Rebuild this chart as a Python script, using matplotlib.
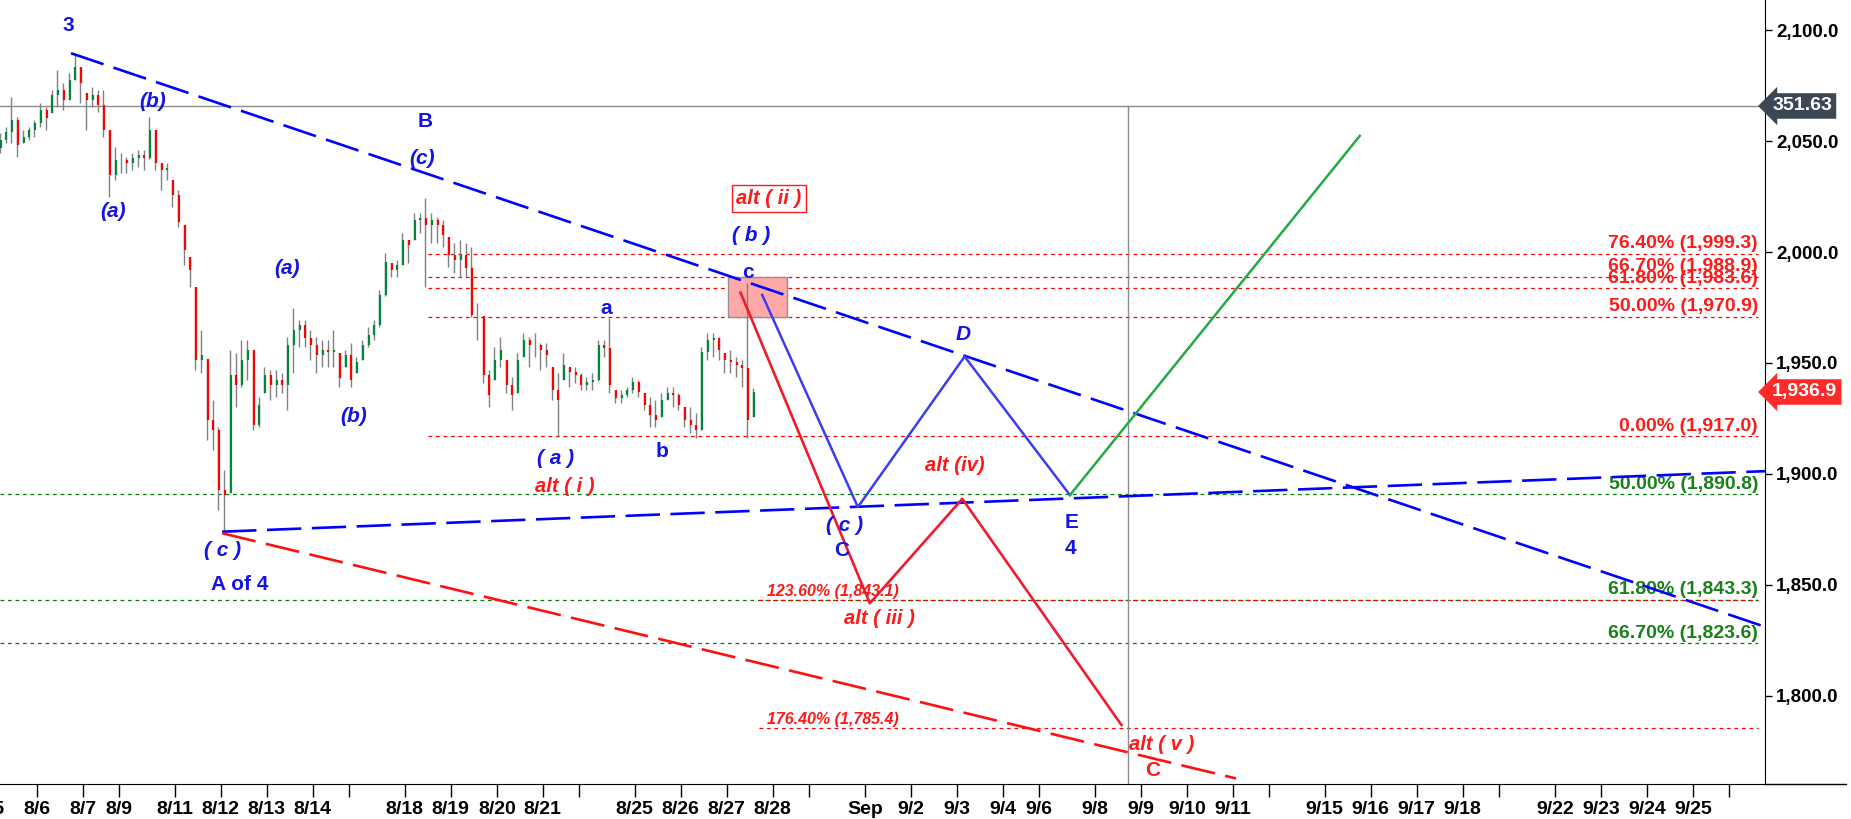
import numpy as np
import matplotlib.pyplot as plt
from matplotlib.patches import Rectangle
from matplotlib.lines import Line2D

plt.rcParams['font.family'] = ['Liberation Sans', 'DejaVu Sans']

# x axis is measured in sessions (8/6 = 0); bars every 1/8 session
bar_start = -0.8
bar_step = 0.125

bar_high = [2053.7, 2056.4, 2070.0, 2060.9, 2055.1, 2056.4, 2059.6, 2067.3, 2065.4, 2073.1,
            2082.1, 2076.3, 2080.8, 2088.9, 2083.5, 2071.8, 2074.5, 2073.1, 2073.1, 2055.0,
            2047.4, 2044.7, 2042.9, 2044.7, 2046.1, 2046.1, 2060.9, 2055.0, 2040.2, 2040.2,
            2032.5, 2028.0, 2012.2, 1997.8, 1984.3, 1964.9, 1952.0, 1933.3, 1921.0, 1901.8,
            1955.8, 1954.5, 1960.4, 1960.4, 1956.0, 1934.7, 1948.2, 1946.8, 1946.8, 1945.5,
            1961.7, 1974.8, 1969.4, 1969.4, 1964.9, 1961.7, 1960.4, 1960.4, 1964.9, 1954.5,
            1955.8, 1959.0, 1952.7, 1960.4, 1966.2, 1969.4, 1982.9, 1999.6, 1995.1, 1996.4,
            2008.6, 2005.5, 2017.6, 2017.6, 2024.4, 2017.6, 2015.8, 2014.5, 2006.8, 2004.1,
            2005.5, 2004.1, 2002.3, 1977.0, 1971.0, 1946.8, 1957.2, 1961.7, 1951.3, 1943.7,
            1954.5, 1963.5, 1961.7, 1963.5, 1959.0, 1959.0, 1948.2, 1945.5, 1954.5, 1948.2,
            1948.2, 1945.5, 1943.7, 1945.5, 1960.4, 1960.4, 1970.3, 1937.8, 1937.8, 1939.2,
            1943.7, 1942.3, 1936.5, 1934.7, 1933.3, 1936.5, 1939.2, 1939.2, 1936.5, 1930.1,
            1930.1, 1927.4, 1957.2, 1963.5, 1963.5, 1961.7, 1954.5, 1955.8, 1952.7, 1951.3,
            1986.1, 1938.7]
bar_low = [2044.7, 2049.2, 2049.2, 2042.9, 2049.2, 2050.6, 2051.9, 2056.4, 2055.1, 2062.7,
           2065.4, 2064.1, 2068.6, 2077.6, 2067.3, 2055.1, 2065.4, 2063.2, 2051.9, 2024.9,
           2032.5, 2035.7, 2035.7, 2037.0, 2038.4, 2037.0, 2042.0, 2037.0, 2028.0, 2032.5,
           2020.3, 2011.3, 1994.2, 1984.3, 1946.8, 1945.5, 1915.3, 1910.8, 1883.8, 1873.4,
           1891.4, 1930.1, 1939.2, 1942.3, 1919.8, 1921.1, 1936.5, 1933.3, 1934.7, 1936.5,
           1928.8, 1945.5, 1957.2, 1957.2, 1951.3, 1945.5, 1948.2, 1948.2, 1948.2, 1939.2,
           1948.2, 1939.2, 1945.5, 1951.3, 1957.2, 1960.4, 1966.2, 1980.0, 1988.8, 1988.8,
           1994.0, 1995.1, 2005.5, 2008.6, 1984.3, 2004.1, 2004.1, 2002.3, 1993.3, 1990.6,
           1988.8, 1988.8, 1970.7, 1960.4, 1941.0, 1930.1, 1942.3, 1948.2, 1936.5, 1928.8,
           1936.5, 1952.7, 1948.2, 1952.7, 1946.8, 1948.2, 1933.3, 1916.6, 1942.3, 1939.2,
           1941.0, 1937.8, 1937.8, 1937.8, 1942.0, 1952.7, 1936.5, 1932.0, 1932.0, 1934.7,
           1936.5, 1934.7, 1928.8, 1921.1, 1921.1, 1925.6, 1933.3, 1930.1, 1928.8, 1921.1,
           1918.4, 1916.2, 1919.8, 1951.3, 1952.7, 1951.3, 1945.5, 1945.5, 1943.7, 1939.2,
           1916.2, 1925.6]
bar_close = [2050.6, 2054.2, 2059.6, 2048.3, 2051.9, 2055.1, 2058.2, 2064.1, 2060.5, 2070.9,
             2073.1, 2068.6, 2077.6, 2083.5, 2076.3, 2068.6, 2070.9, 2066.4, 2055.1, 2034.8,
             2041.5, 2041.5, 2040.2, 2042.4, 2043.8, 2042.4, 2055.1, 2040.2, 2037.0, 2037.9,
             2025.8, 2013.6, 2000.9, 1991.9, 1951.3, 1953.6, 1924.3, 1919.8, 1892.8, 1890.5,
             1944.6, 1940.1, 1951.3, 1955.8, 1922.0, 1931.0, 1944.6, 1940.1, 1942.3, 1940.1,
             1958.1, 1964.9, 1967.1, 1961.3, 1958.1, 1953.6, 1955.8, 1954.9, 1955.8, 1943.2,
             1953.6, 1942.3, 1950.4, 1958.1, 1962.6, 1967.1, 1980.7, 1995.5, 1991.9, 1994.2,
             2005.5, 2003.2, 2014.5, 2015.4, 2012.2, 2014.5, 2012.2, 2007.7, 1998.7, 1996.4,
             1998.7, 1992.8, 1971.6, 1971.6, 1944.6, 1935.6, 1951.3, 1955.8, 1940.1, 1935.6,
             1951.3, 1960.4, 1958.1, 1958.1, 1955.8, 1953.6, 1937.8, 1933.3, 1949.1, 1945.9,
             1944.6, 1940.1, 1941.4, 1942.3, 1958.1, 1956.8, 1940.1, 1934.2, 1935.6, 1937.8,
             1941.4, 1936.9, 1931.0, 1926.5, 1924.3, 1933.3, 1936.5, 1935.6, 1931.0, 1924.3,
             1922.0, 1919.8, 1954.9, 1960.4, 1961.3, 1955.8, 1951.3, 1950.4, 1949.1, 1947.7,
             1924.3, 1936.9]
first_open = 2047.0
last_price = 1936.9
cursor_value = 351.63
cursor_price = 2065.9
cursor_x = 23.73

tick_pos = [0, 1, 1.78, 3, 4, 5, 6, 8, 9, 10, 11, 13, 14, 15, 16, 18, 19, 20, 21, 21.78,
            23, 24, 25, 26, 28, 29, 30, 31, 33, 34, 35, 36]
tick_lab = ['8/6', '8/7', '8/9', '8/11', '8/12', '8/13', '8/14', '8/18', '8/19', '8/20', '8/21',
            '8/25', '8/26', '8/27', '8/28', 'Sep', '9/2', '9/3', '9/4', '9/6', '9/8', '9/9',
            '9/10', '9/11', '9/15', '9/16', '9/17', '9/18', '9/22', '9/23', '9/24', '9/25']
minor_pos = [6.78, 11.78, 16.78, 26.78, 31.78, 36.78]

# trend lines (start/end)
upper_tl_x, upper_tl_y = [0.744, 37.57], [2089.7, 1831.0]
lower_tl_x, lower_tl_y = [4.03, 37.57], [1873.9, 1901.2]
red_tl_x, red_tl_y = [4.03, 26.07], [1873.2, 1762.6]

# projected waves
blue_wave_x = [15.77, 17.85, 20.17, 22.46]
blue_wave_y = [1980.7, 1885.0, 1952.9, 1890.4]
green_wave_x = [22.46, 28.76]
green_wave_y = [1890.4, 2052.4]
red_wave_x = [15.30, 18.11, 20.12, 23.58]
red_wave_y = [1981.7, 1841.6, 1888.7, 1786.7]

box_x = [15.03, 16.31]
box_y = [1970.9, 1988.9]

fib_red_pct = [76.40, 66.70, 61.80, 50.00, 0.00]
fib_red_val = [1999.3, 1988.9, 1983.6, 1970.9, 1917.0]
fib_green_pct = [50.00, 61.80, 66.70]
fib_green_val = [1890.8, 1843.3, 1823.6]
fib_ext_pct = [123.60, 176.40]
fib_ext_val = [1843.1, 1785.4]

blue_labels = [('3', 0.68, 2102.0, 'normal'), ('(b)', 2.52, 2067.8, 'italic'),
               ('(a)', 1.65, 2018.2, 'italic'), ('B', 8.44, 2058.7, 'normal'),
               ('(c)', 8.37, 2042.4, 'italic'), ('(a)', 5.43, 1992.7, 'italic'),
               ('(b)', 6.88, 1925.8, 'italic'), ('( c )', 4.03, 1865.2, 'italic'),
               ('A of 4', 4.42, 1850.3, 'normal'), ('( a )', 11.27, 1907.0, 'italic'),
               ('a', 12.37, 1974.7, 'normal'), ('b', 13.60, 1910.0, 'normal'),
               ('( b )', 15.52, 2007.3, 'italic'), ('c', 15.47, 1990.7, 'normal'),
               ('( c )', 17.57, 1876.9, 'italic'), ('C', 17.50, 1865.6, 'normal'),
               ('D', 20.13, 1963.0, 'italic'), ('E', 22.50, 1878.0, 'normal'),
               ('4', 22.46, 1866.1, 'normal')]
red_labels = [('alt ( i )', 11.48, 1894.2), ('alt ( iii )', 18.32, 1834.8),
              ('alt (iv)', 19.96, 1903.7), ('alt ( v )', 24.45, 1777.7)]

BLUE = '#1414e6'
RED = '#ff1a1a'
GREEN = '#1a801a'

fig = plt.figure(figsize=(18.51, 8.19), dpi=100)
ax = fig.add_axes([0, 35 / 819, 1765 / 1851, 784 / 819])
ax.set_xlim(-0.8, 37.57)
ax.set_ylim(1760.1, 2113.7)

# price bars
n = len(bar_close)
bx = bar_start + bar_step * np.arange(n)
opens = np.clip([first_open] + bar_close[:-1], bar_low, bar_high)
ax.vlines(bx, bar_low, bar_high, color='#808080', lw=1.0, zorder=3)
body_col = ['#00873c' if c >= o else '#ff0000' for o, c in zip(opens, bar_close)]
ax.vlines(bx + 0.015, np.minimum(opens, bar_close), np.maximum(opens, bar_close),
          color=body_col, lw=1.6, zorder=3)

# fibonacci levels
xr = 37.42
for p, v in zip(fib_red_pct, fib_red_val):
    ax.plot([8.51, xr], [v, v], color='#ff0000', lw=0.9, dashes=(3, 3), zorder=1)
    ax.annotate(f'{p:.2f}% ({v:,.1f})', (xr, v), xytext=(0, 4), textcoords='offset points',
                ha='right', va='baseline', color=RED, fontsize=14, fontweight='bold')
for p, v in zip(fib_green_pct, fib_green_val):
    ax.plot([-0.8, xr], [v, v], color='#008000', lw=0.9, dashes=(3, 3), zorder=1)
    ax.annotate(f'{p:.2f}% ({v:,.1f})', (xr, v), xytext=(0, 4), textcoords='offset points',
                ha='right', va='baseline', color=GREEN, fontsize=14, fontweight='bold')
for p, v in zip(fib_ext_pct, fib_ext_val):
    ax.plot([15.7, xr], [v, v], color='#ff0000', lw=0.9, dashes=(3, 3), zorder=1)
    ax.annotate(f'{p:.2f}% ({v:,.1f})', (15.87, v), xytext=(0, 3), textcoords='offset points',
                ha='left', va='baseline', color=RED, fontsize=11.5, fontweight='bold',
                fontstyle='italic')

ax.add_patch(Rectangle((box_x[0], box_y[0]), box_x[1] - box_x[0], box_y[1] - box_y[0],
                       fc='#ffa8a8', ec='#909090', lw=1, zorder=2))

# cursor
ax.axhline(cursor_price, color='#8c8c8c', lw=1, zorder=1)
ax.plot([cursor_x, cursor_x], [cursor_price, 1760.1], color='#8c8c8c', lw=1, zorder=1,
        clip_on=False)

# trend lines
ax.plot(upper_tl_x, upper_tl_y, color='#0000ff', lw=1.9, dashes=(13, 4), zorder=4)
ax.plot(lower_tl_x, lower_tl_y, color='#0000ff', lw=1.9, dashes=(13, 4), zorder=4)
ax.plot(red_tl_x, red_tl_y, color='#ff1010', lw=1.9, dashes=(13, 4), zorder=4, clip_on=False)

ax.plot(blue_wave_x, blue_wave_y, color='#3c3cf0', lw=1.8, zorder=5)
ax.plot(green_wave_x, green_wave_y, color='#22aa44', lw=1.8, zorder=5)
ax.plot(red_wave_x, red_wave_y, color='#ee1c2c', lw=1.9, zorder=5)

for s, x, y, st in blue_labels:
    ax.text(x, y, s, ha='center', va='center', color=BLUE, fontsize=15,
            fontweight='bold', fontstyle=st, zorder=6)
for s, x, y in red_labels:
    ax.text(x, y, s, ha='center', va='center', color=RED, fontsize=14.5,
            fontweight='bold', fontstyle='italic', zorder=6)
ax.text(24.26, 1766.4, 'C', ha='center', va='center', color=RED, fontsize=15,
        fontweight='bold', zorder=6)
ax.text(15.92, 2024.0, 'alt ( ii )', ha='center', va='center', color=RED, fontsize=14.5,
        fontweight='bold', fontstyle='italic', zorder=6,
        bbox=dict(boxstyle='square,pad=0.2', fc='white', ec=RED, lw=1))

# axes
ax.yaxis.tick_right()
yt = [1800, 1850, 1900, 1950, 2000, 2050, 2100]
ax.set_yticks(yt)
ax.set_yticklabels([f'{v:,.1f}' for v in yt], fontsize=13.5, fontweight='bold')
ax.tick_params(axis='y', length=5, width=1, pad=3)
ax.set_xticks(tick_pos)
ax.set_xticklabels(tick_lab, fontsize=14, fontweight='bold')
ax.set_xticks(minor_pos, minor=True)
ax.tick_params(axis='x', which='both', length=9, width=1, pad=3)
ax.annotate('8/5', (-1.0, 0), xycoords=ax.get_xaxis_transform(), xytext=(0, -12),
            textcoords='offset points', ha='center', va='top', fontsize=14,
            fontweight='bold', annotation_clip=False)
for s in ['left', 'top']:
    ax.spines[s].set_visible(False)

# price tags on the axis
ax.text(1.004, cursor_price, f'{cursor_value:.2f}', transform=ax.get_yaxis_transform(),
        ha='left', va='center', color='white', fontsize=14, fontweight='bold',
        bbox=dict(boxstyle='larrow,pad=0.22', fc='#3b4853', ec='none'), clip_on=False)
ax.text(1.004, last_price, f'{last_price:,.1f}', transform=ax.get_yaxis_transform(),
        ha='left', va='center', color='white', fontsize=14, fontweight='bold',
        bbox=dict(boxstyle='larrow,pad=0.22', fc='#ff2a2a', ec='none'), clip_on=False)

fig.add_artist(Line2D([1765 / 1851, 1846 / 1851], [35 / 819, 35 / 819], color='k', lw=1))

fig.savefig('out.png', dpi=100)
